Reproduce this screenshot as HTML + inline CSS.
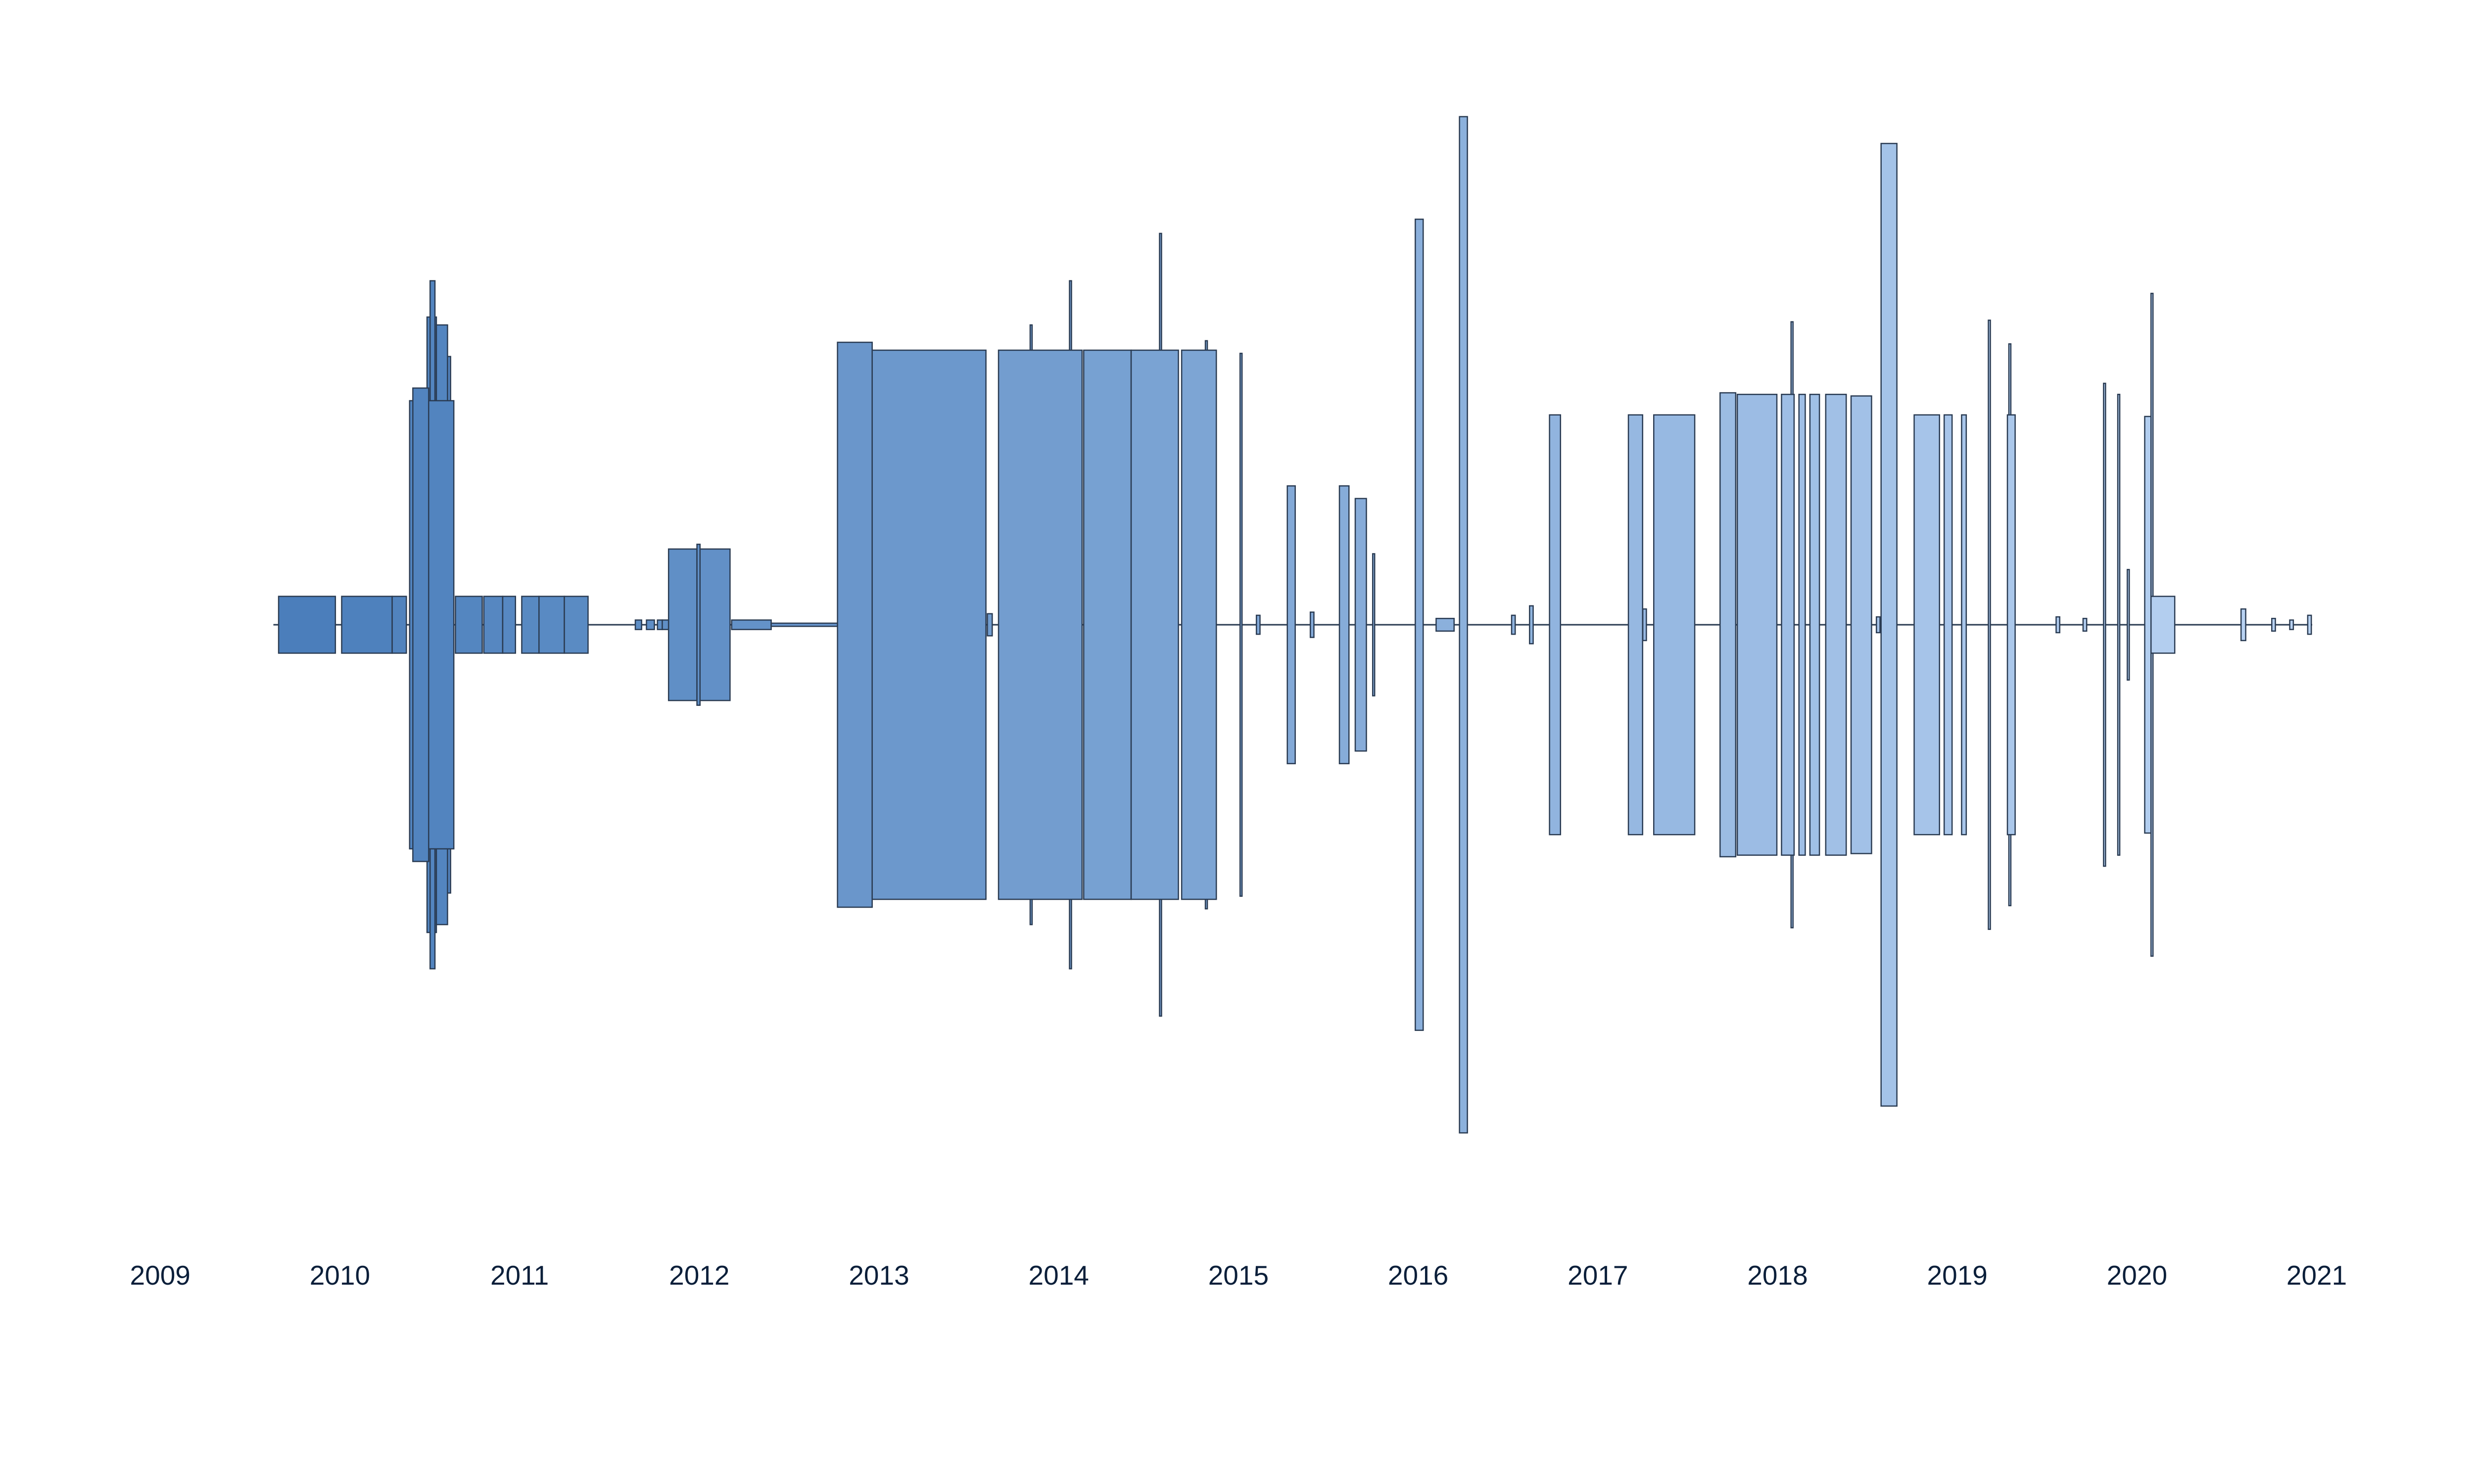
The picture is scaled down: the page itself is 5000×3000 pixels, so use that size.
<!DOCTYPE html>
<html><head><meta charset="utf-8"><style>
html,body{margin:0;padding:0;background:#fff;}
svg{display:block;}
text{font-family:"Liberation Sans",sans-serif;font-size:55px;fill:#0b1f3a;}
</style></head><body>
<svg id="chart" width="5000" height="3000" viewBox="0 0 5000 3000" xmlns="http://www.w3.org/2000/svg">
<g id="marks"></g>
<g id="axis"></g>
</svg>
<script>
const starts = [2009.659,2010.010,2010.291,2010.581,2010.485,2010.502,2010.537,2010.388,2010.406,2010.643,2010.801,2010.906,2011.012,2011.108,2011.249,2011.644,2011.706,2011.767,2011.794,2012.180,2012.400,
2011.829,2012.004,2011.987,2012.769,2012.962,2013.603,2013.841,2014.060,2014.561,2014.816,2013.665,2014.139,2014.403,2014.684,2015.009,2015.272,2015.562,2015.650,2015.747,2015.984,2016.230,2016.731,2017.170,2017.311,
2018.075,2017.680,2017.776,2018.022,2018.119,2018.180,2018.268,2018.409,2018.576,2019.173,2018.760,2018.927,2019.024,2019.287,2019.279,2019.814,2019.893,2019.946,2020.078,2020.043,2020.078,2020.579,2015.10,2015.40,2016.10,2016.52,2016.62,2017.25,2018.55,2019.55,2019.70,2020.75,2020.85,2020.95];
const ends = [2009.975,2010.291,2010.370,2010.616,2010.537,2010.529,2010.599,2010.634,2010.494,2010.792,2010.906,2010.977,2011.108,2011.249,2011.381,2011.679,2011.750,2011.794,2011.829,2012.400,2012.769,
2011.987,2012.171,2012.004,2012.962,2013.595,2013.630,2013.851,2014.070,2014.571,2014.826,2014.130,2014.403,2014.666,2014.877,2015.019,2015.316,2015.615,2015.712,2015.757,2016.028,2016.274,2016.792,2017.249,2017.539,
2018.085,2017.767,2017.996,2018.092,2018.154,2018.233,2018.382,2018.523,2018.664,2019.183,2018.901,2018.971,2019.050,2019.297,2019.322,2019.824,2019.903,2019.956,2020.088,2020.078,2020.210,2020.605,2015.12,2015.42,2016.20,2016.54,2016.64,2017.27,2018.57,2019.57,2019.72,2020.77,2020.87,2020.97];
const values = [18,18,18,170,195,218,190,142,150,18,18,18,18,18,18,3,3,3,3,3,1,
48,48,51,179,174,7,190,218,248,180,174,174,174,174,172,88,88,80,45,257,322,133,133,133,
192,147,146,146,146,146,146,145,305,193,133,133,133,178,133,153,146,35,210,132,18,10,6,8,4,6,12,10,5,5,4,4,3,6];
const yearTicks = [2009,2010,2011,2012,2013,2014,2015,2016,2017,2018,2019,2020,2021];

const X0 = 323.7, PX_PER_YEAR = 363.2, CY = 1263, VS = 3.19;
const xScale = y => X0 + (y - 2009) * PX_PER_YEAR;
const hScale = v => v * VS;
const NS = "http://www.w3.org/2000/svg";
const marks = document.getElementById('marks');
const axis = document.getElementById('axis');

function colorAt(yr){
  const t = Math.max(0, Math.min(1, (yr - 2009.6) / 11));
  const a = [74,126,187], b = [184,210,242];
  return 'rgb(' + a.map((c,i)=>Math.round(c+(b[i]-c)*t)).join(',') + ')';
}

const base = document.createElementNS(NS,'line');


base.setAttribute('x1', xScale(2009.63)); base.setAttribute('x2', xScale(2020.975));
base.setAttribute('y1', CY); base.setAttribute('y2', CY);
base.setAttribute('stroke', '#2a3b52'); base.setAttribute('stroke-width', 3);
marks.appendChild(base);

for (let i = 0; i < starts.length; i++) {
  const x = xScale(starts[i]);
  const w = Math.max(4, xScale(ends[i]) - x);
  const h = hScale(values[i]);
  const r = document.createElementNS(NS,'rect');
  
  
  r.setAttribute('x', x); r.setAttribute('width', w);
  r.setAttribute('y', CY - h); r.setAttribute('height', 2*h);
  r.setAttribute('fill', colorAt(starts[i]));
  r.setAttribute('stroke', '#2a3b52'); r.setAttribute('stroke-width', 2.5);
  marks.appendChild(r);
}

yearTicks.forEach(yr => {
  const t = document.createElementNS(NS,'text');
  
  
  t.setAttribute('x', xScale(yr)); t.setAttribute('y', 2597);
  t.setAttribute('text-anchor', 'middle');
  t.textContent = yr;
  axis.appendChild(t);
});
</script>
</body></html>
